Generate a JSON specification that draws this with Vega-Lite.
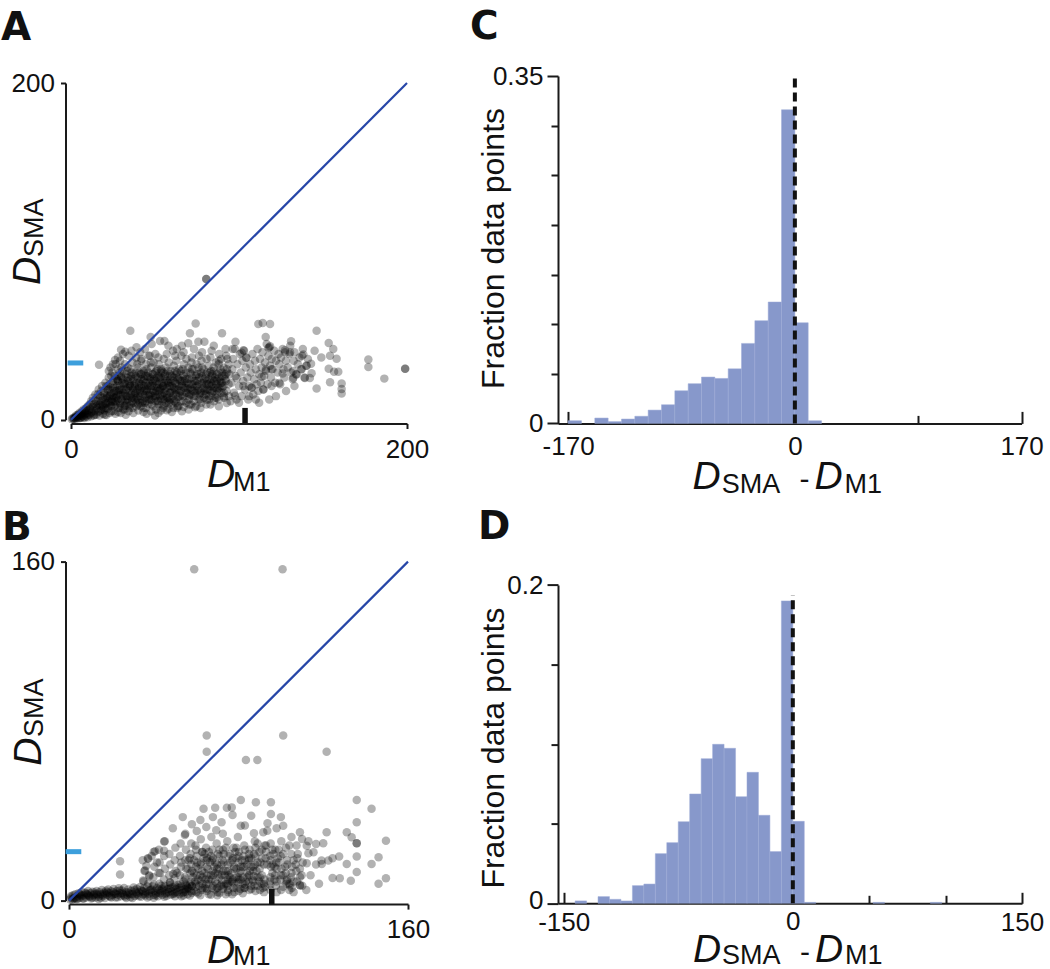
{
"$schema": "https://vega.github.io/schema/vega-lite/v6.json",
"padding": {"left": 1, "top": 7, "right": 0, "bottom": 0},
"config": {
  "view": {"stroke": null},
  "font": "Liberation Sans",
  "axis": {"grid": false, "domainColor": "#1a1a1a", "domainWidth": 2, "tickColor": "#1a1a1a", "tickWidth": 2, "labelColor": "#111111", "labelFontSize": 26, "labelFont": "Liberation Sans", "labelFlush": false, "labelOverlap": false, "titleColor": "#111111", "titleFont": "Liberation Sans", "titleFontWeight": "normal"},
  "title": {"font": "DejaVu Sans", "fontWeight": "bold", "fontSize": 39, "color": "#111111", "anchor": "start", "frame": "group", "baseline": "alphabetic", "offset": 0}
},
"datasets": {
"scatterA": [
{"m1":0.5,"sma":0.3},{"m1":1,"sma":0.8},{"m1":1.5,"sma":0.5},{"m1":2,"sma":1.5},{"m1":2.5,"sma":1},{"m1":3,"sma":0.5},{"m1":3,"sma":2.5},{"m1":3.5,"sma":1.5},{"m1":4,"sma":3},{"m1":4,"sma":1},{"m1":4.5,"sma":2},{"m1":5,"sma":4},{"m1":5,"sma":0.8},{"m1":5.5,"sma":2.5},{"m1":6,"sma":3.5},{"m1":6,"sma":1.2},{"m1":6.5,"sma":5},{"m1":7,"sma":2},{"m1":7,"sma":4},{"m1":7.5,"sma":6},{"m1":8,"sma":1},{"m1":8,"sma":3},{"m1":8.5,"sma":5},{"m1":9,"sma":7},{"m1":9,"sma":2},{"m1":9.5,"sma":4},{"m1":10,"sma":8},{"m1":10,"sma":1.5},{"m1":10.5,"sma":5.5},{"m1":11,"sma":3},{"m1":11,"sma":9},{"m1":11.5,"sma":6.5},{"m1":12,"sma":2},{"m1":12,"sma":11},{"m1":12.5,"sma":4.5},{"m1":13,"sma":7.5},{"m1":13,"sma":13},{"m1":13.5,"sma":2.5},{"m1":14,"sma":9.5},{"m1":14,"sma":5},{"m1":14.5,"sma":15},{"m1":15,"sma":3},{"m1":15,"sma":11},{"m1":15.5,"sma":7},{"m1":16,"sma":13},{"m1":16,"sma":4.5},{"m1":16.5,"sma":18},{"m1":17,"sma":9},{"m1":17,"sma":2.5},{"m1":17.5,"sma":14},{"m1":18,"sma":6},{"m1":18,"sma":11},{"m1":18.5,"sma":20},{"m1":19,"sma":3.5},{"m1":19,"sma":8},{"m1":19.5,"sma":16},{"m1":20,"sma":12},{"m1":20,"sma":5.5},{"m1":20.5,"sma":22},{"m1":21,"sma":9.5},{"m1":21,"sma":2.8},{"m1":21.5,"sma":14},{"m1":22,"sma":18},{"m1":22,"sma":6.5},{"m1":22.5,"sma":11},{"m1":23,"sma":4},{"m1":23,"sma":21},{"m1":23.5,"sma":15},{"m1":24,"sma":8.5},{"m1":24,"sma":26},{"m1":24.5,"sma":12.5},
{"m1":2,"sma":0.5},{"m1":3,"sma":1.8},{"m1":4.5,"sma":3},{"m1":5.5,"sma":1.2},{"m1":6.5,"sma":2.5},{"m1":7.5,"sma":1.5},{"m1":8.5,"sma":3.5},{"m1":9,"sma":5.5},{"m1":10,"sma":3},{"m1":11,"sma":6},{"m1":12,"sma":4},{"m1":13,"sma":9},{"m1":14,"sma":3},{"m1":15,"sma":6},{"m1":16,"sma":9},{"m1":17,"sma":5},{"m1":18,"sma":8.5},{"m1":19,"sma":13},{"m1":20,"sma":3},{"m1":21,"sma":7},{"m1":22,"sma":10},{"m1":23,"sma":14},{"m1":24,"sma":5},{"m1":25,"sma":19},{"m1":26,"sma":8},{"m1":27,"sma":14},{"m1":28,"sma":23},
{"m1":25.2,"sma":5},{"m1":24.8,"sma":10.5},{"m1":25.5,"sma":16},{"m1":25.1,"sma":21},{"m1":24.6,"sma":28},{"m1":26.4,"sma":3.5},{"m1":26.8,"sma":13},{"m1":26.3,"sma":19},{"m1":26.9,"sma":24},{"m1":26.6,"sma":33},{"m1":28.2,"sma":7},{"m1":27.8,"sma":12},{"m1":28.4,"sma":17.5},{"m1":27.9,"sma":23},{"m1":28.1,"sma":30},{"m1":29.6,"sma":4},{"m1":29.3,"sma":9},{"m1":29.8,"sma":15},{"m1":29.4,"sma":20},{"m1":29.7,"sma":26},{"m1":29.2,"sma":35},{"m1":31.1,"sma":6},{"m1":30.8,"sma":11},{"m1":31.4,"sma":18},{"m1":31,"sma":24},{"m1":30.7,"sma":29},{"m1":32.6,"sma":3},{"m1":32.3,"sma":8.5},{"m1":32.8,"sma":14},{"m1":32.4,"sma":21},{"m1":32.9,"sma":27},{"m1":32.2,"sma":33},{"m1":34.2,"sma":5},{"m1":33.8,"sma":12},{"m1":34.4,"sma":17},{"m1":34,"sma":23},{"m1":33.7,"sma":31},{"m1":34.3,"sma":38},{"m1":35.4,"sma":9},{"m1":35.8,"sma":15},{"m1":35.3,"sma":20},{"m1":35.7,"sma":26},{"m1":35.5,"sma":30},{"m1":37.1,"sma":4},{"m1":36.8,"sma":7},{"m1":37.3,"sma":13},{"m1":36.9,"sma":18},{"m1":37.2,"sma":24},{"m1":36.7,"sma":34},{"m1":38.6,"sma":10},{"m1":38.3,"sma":16},{"m1":38.8,"sma":22},{"m1":38.4,"sma":28},{"m1":38.7,"sma":37},{"m1":40.1,"sma":5.5},{"m1":39.8,"sma":12},{"m1":40.3,"sma":19},{"m1":39.9,"sma":25},{"m1":40.2,"sma":31},{"m1":41.6,"sma":8},{"m1":41.3,"sma":14},{"m1":41.8,"sma":21},{"m1":41.4,"sma":27},{"m1":41.7,"sma":35},{"m1":41.2,"sma":40},{"m1":43.1,"sma":4.5},{"m1":42.8,"sma":11},{"m1":43.3,"sma":17},{"m1":42.9,"sma":23},{"m1":43.2,"sma":29},{"m1":44.6,"sma":7},{"m1":44.3,"sma":13},{"m1":44.8,"sma":20},{"m1":44.4,"sma":26},{"m1":44.7,"sma":33},{"m1":46.1,"sma":9.5},{"m1":45.8,"sma":15},{"m1":46.3,"sma":22},{"m1":45.9,"sma":28},{"m1":46.2,"sma":38},{"m1":47.6,"sma":5},{"m1":47.3,"sma":12},{"m1":47.8,"sma":18},{"m1":47.4,"sma":24},{"m1":47.7,"sma":31},{"m1":49.1,"sma":8},{"m1":48.8,"sma":14},{"m1":49.3,"sma":20},{"m1":48.9,"sma":27},{"m1":49.2,"sma":34},{"m1":50.6,"sma":6},{"m1":50.3,"sma":11},{"m1":50.8,"sma":17},{"m1":50.4,"sma":23},{"m1":50.7,"sma":29},{"m1":50.2,"sma":39},{"m1":52.1,"sma":9},{"m1":51.8,"sma":15},{"m1":52.3,"sma":21},{"m1":51.9,"sma":26},{"m1":52.2,"sma":33},{"m1":53.6,"sma":5.5},{"m1":53.3,"sma":12.5},{"m1":53.8,"sma":19},{"m1":53.4,"sma":25},{"m1":53.7,"sma":30},{"m1":55.1,"sma":8},{"m1":54.8,"sma":14},{"m1":55.3,"sma":22},{"m1":54.9,"sma":28},{"m1":55.2,"sma":36},{"m1":56.6,"sma":10},{"m1":56.3,"sma":17},{"m1":56.8,"sma":23},{"m1":56.4,"sma":31},{"m1":58.1,"sma":6.5},{"m1":57.8,"sma":13},{"m1":58.3,"sma":20},{"m1":57.9,"sma":26},{"m1":58.2,"sma":34},{"m1":59.6,"sma":9},{"m1":59.3,"sma":16},{"m1":59.8,"sma":22},{"m1":59.4,"sma":29},{"m1":61.1,"sma":7},{"m1":60.8,"sma":12},{"m1":61.3,"sma":19},{"m1":60.9,"sma":25},{"m1":61.2,"sma":32},{"m1":60.7,"sma":41},{"m1":62.6,"sma":10},{"m1":62.3,"sma":15},{"m1":62.8,"sma":21},{"m1":62.4,"sma":27},{"m1":62.7,"sma":35},{"m1":64.1,"sma":8},{"m1":63.8,"sma":13.5},{"m1":64.3,"sma":20},{"m1":63.9,"sma":24},{"m1":64.2,"sma":30},{"m1":65.6,"sma":11},{"m1":65.3,"sma":17},{"m1":65.8,"sma":23},{"m1":65.4,"sma":29},{"m1":65.7,"sma":38},{"m1":67.1,"sma":7.5},{"m1":66.8,"sma":14},{"m1":67.3,"sma":19},{"m1":66.9,"sma":26},{"m1":67.2,"sma":33},{"m1":68.6,"sma":10},{"m1":68.3,"sma":16},{"m1":68.8,"sma":22},{"m1":68.4,"sma":28},{"m1":68.7,"sma":36},{"m1":70.1,"sma":12},{"m1":69.8,"sma":18},{"m1":70.3,"sma":24},{"m1":69.9,"sma":31},{"m1":71.6,"sma":9},{"m1":71.3,"sma":15},{"m1":71.8,"sma":21},{"m1":71.4,"sma":27},{"m1":71.7,"sma":34},{"m1":73.1,"sma":11},{"m1":72.8,"sma":17},{"m1":73.3,"sma":23},{"m1":72.9,"sma":30},{"m1":73.2,"sma":42},{"m1":74.6,"sma":8},{"m1":74.3,"sma":14},{"m1":74.8,"sma":20},{"m1":74.4,"sma":26},{"m1":74.7,"sma":33},{"m1":76.1,"sma":12},{"m1":75.8,"sma":18},{"m1":76.3,"sma":25},{"m1":75.9,"sma":31},{"m1":76.2,"sma":38},{"m1":77.6,"sma":10},{"m1":77.3,"sma":16},{"m1":77.8,"sma":22},{"m1":77.4,"sma":28},{"m1":77.7,"sma":35},{"m1":79.1,"sma":13},{"m1":78.8,"sma":19},{"m1":79.3,"sma":24},{"m1":78.9,"sma":30},{"m1":80.6,"sma":9},{"m1":80.3,"sma":15},{"m1":80.8,"sma":21},{"m1":80.4,"sma":27},{"m1":80.7,"sma":36},{"m1":82.1,"sma":12},{"m1":81.8,"sma":18},{"m1":82.3,"sma":24},{"m1":81.9,"sma":32},{"m1":83.6,"sma":14},{"m1":83.3,"sma":20},{"m1":83.8,"sma":26},{"m1":83.4,"sma":29},{"m1":83.7,"sma":41},{"m1":85.1,"sma":11},{"m1":84.8,"sma":17},{"m1":85.3,"sma":23},{"m1":84.9,"sma":31},{"m1":86.6,"sma":15},{"m1":86.3,"sma":21},{"m1":86.8,"sma":27},{"m1":86.4,"sma":34},{"m1":88.1,"sma":12},{"m1":87.8,"sma":19},{"m1":88.3,"sma":25},{"m1":87.9,"sma":33},{"m1":88.2,"sma":39},{"m1":89.6,"sma":16},{"m1":89.3,"sma":22},{"m1":89.8,"sma":28},{"m1":89.4,"sma":36},{"m1":91.1,"sma":13},{"m1":90.8,"sma":20},{"m1":91.3,"sma":26},{"m1":90.9,"sma":31},{"m1":92.6,"sma":17},{"m1":92.3,"sma":23},{"m1":92.8,"sma":30},{"m1":92.4,"sma":38},{"m1":94.1,"sma":14},{"m1":93.8,"sma":21},{"m1":94.3,"sma":27},{"m1":93.9,"sma":33},
{"m1":19,"sma":6},{"m1":20.5,"sma":10},{"m1":21.5,"sma":18},{"m1":22.5,"sma":25},{"m1":23.5,"sma":31},{"m1":24,"sma":8},{"m1":25.8,"sma":13},{"m1":26,"sma":26},{"m1":27,"sma":9},{"m1":27.5,"sma":20},{"m1":28.8,"sma":15},{"m1":29,"sma":28},{"m1":30,"sma":12},{"m1":30.5,"sma":22},{"m1":31.8,"sma":8},{"m1":32,"sma":16},{"m1":33,"sma":25},{"m1":33.5,"sma":10},{"m1":34.8,"sma":20},{"m1":35,"sma":14},{"m1":36,"sma":28},{"m1":36.2,"sma":11},{"m1":37.8,"sma":21},{"m1":38,"sma":15},{"m1":39,"sma":8},{"m1":39.5,"sma":18},{"m1":40.5,"sma":28},{"m1":41,"sma":16},{"m1":42,"sma":24},{"m1":42.5,"sma":10},{"m1":43.5,"sma":20},{"m1":44,"sma":15},{"m1":45,"sma":30},{"m1":45.2,"sma":18},{"m1":46.5,"sma":12},{"m1":47,"sma":25},{"m1":48,"sma":20},{"m1":48.5,"sma":16},{"m1":49.5,"sma":24},{"m1":50,"sma":13},{"m1":51,"sma":19},{"m1":51.5,"sma":30},{"m1":52.5,"sma":17},{"m1":53,"sma":24},{"m1":54,"sma":15},{"m1":54.5,"sma":20},{"m1":55.8,"sma":26},{"m1":56,"sma":12},{"m1":57,"sma":19},{"m1":57.5,"sma":29},{"m1":58.8,"sma":16},{"m1":59,"sma":24},{"m1":60,"sma":20},{"m1":60.5,"sma":14},{"m1":62,"sma":18},{"m1":63,"sma":25},{"m1":64.5,"sma":16},{"m1":66,"sma":21},{"m1":67.5,"sma":23},{"m1":69,"sma":19},{"m1":70.5,"sma":15},{"m1":72,"sma":25},{"m1":73.8,"sma":19},{"m1":75,"sma":23},{"m1":76.5,"sma":15},{"m1":78,"sma":26},{"m1":79.5,"sma":17},{"m1":81,"sma":23},{"m1":82.8,"sma":28},{"m1":84,"sma":21},{"m1":85.8,"sma":25},{"m1":87,"sma":18},{"m1":88.8,"sma":23},{"m1":90,"sma":19},{"m1":91.8,"sma":24},{"m1":93,"sma":28},
{"m1":20,"sma":7},{"m1":21,"sma":13},{"m1":22,"sma":20},{"m1":23,"sma":9},{"m1":24,"sma":16},{"m1":25,"sma":23},{"m1":26,"sma":11},{"m1":27,"sma":17},{"m1":28,"sma":4.5},{"m1":28.5,"sma":26},{"m1":29,"sma":10},{"m1":30,"sma":18},{"m1":30,"sma":31},{"m1":31,"sma":14},{"m1":32,"sma":6},{"m1":32,"sma":22},{"m1":33,"sma":12},{"m1":33.5,"sma":29},{"m1":34,"sma":19},{"m1":35,"sma":7},{"m1":35.5,"sma":24},{"m1":36,"sma":16},{"m1":37,"sma":10},{"m1":37.5,"sma":27},{"m1":38,"sma":20},{"m1":39,"sma":13},{"m1":39.5,"sma":33},{"m1":40,"sma":9},{"m1":40.5,"sma":22},{"m1":41,"sma":17},{"m1":42,"sma":27},{"m1":42,"sma":12},{"m1":43,"sma":7},{"m1":43.5,"sma":24},{"m1":44,"sma":18},{"m1":45,"sma":11},{"m1":45.5,"sma":26},{"m1":46,"sma":20},{"m1":47,"sma":15},{"m1":47.5,"sma":34},{"m1":48,"sma":9},{"m1":48.5,"sma":23},{"m1":49,"sma":17},{"m1":50,"sma":28},{"m1":50.5,"sma":14},{"m1":51,"sma":21},{"m1":52,"sma":11},{"m1":52.5,"sma":25},{"m1":53,"sma":18},{"m1":54,"sma":29},{"m1":54,"sma":9},{"m1":55,"sma":20},{"m1":55.5,"sma":16},{"m1":56,"sma":24},{"m1":57,"sma":13},{"m1":58,"sma":22},{"m1":58.5,"sma":10},{"m1":59,"sma":27},{"m1":60,"sma":17},{"m1":61,"sma":23},{"m1":61.5,"sma":11},{"m1":62,"sma":29},{"m1":63,"sma":18},{"m1":63.5,"sma":8},{"m1":64,"sma":25},{"m1":65,"sma":14},{"m1":66,"sma":20},{"m1":66.5,"sma":30},{"m1":67,"sma":11},{"m1":68,"sma":24},{"m1":69,"sma":16},{"m1":70,"sma":21},{"m1":70.5,"sma":9},{"m1":71,"sma":28},{"m1":72,"sma":18},{"m1":73,"sma":14},{"m1":74,"sma":23},{"m1":75,"sma":17},{"m1":76,"sma":27},{"m1":77,"sma":12},{"m1":78,"sma":21},{"m1":79,"sma":15},{"m1":80,"sma":25},{"m1":81,"sma":18},{"m1":82,"sma":14},{"m1":83,"sma":22},{"m1":84,"sma":27},{"m1":85,"sma":19},{"m1":86,"sma":13},{"m1":87,"sma":24},{"m1":88,"sma":17},{"m1":89,"sma":30},{"m1":90,"sma":22},{"m1":91,"sma":16},{"m1":92,"sma":27},
{"m1":15,"sma":8},{"m1":16,"sma":15},{"m1":17,"sma":11},{"m1":18,"sma":17},{"m1":19,"sma":9},{"m1":20,"sma":15},{"m1":21,"sma":20},{"m1":22,"sma":13},{"m1":23,"sma":18},{"m1":24,"sma":11},{"m1":25,"sma":14},{"m1":26,"sma":17},{"m1":27,"sma":11},{"m1":27.5,"sma":24},{"m1":28,"sma":15},{"m1":29,"sma":18},{"m1":29.5,"sma":7},{"m1":30,"sma":25},{"m1":31,"sma":16},{"m1":31.5,"sma":21},{"m1":32,"sma":11},{"m1":33,"sma":18},{"m1":33.5,"sma":14},{"m1":34,"sma":25},{"m1":34.5,"sma":8},{"m1":35,"sma":21},{"m1":36,"sma":13},{"m1":36.5,"sma":19},{"m1":37,"sma":23},{"m1":38,"sma":12},{"m1":38.5,"sma":26},{"m1":39,"sma":17},{"m1":40,"sma":14},{"m1":40.5,"sma":20},{"m1":41,"sma":10},{"m1":41.5,"sma":24},{"m1":42,"sma":19},{"m1":43,"sma":15},{"m1":43.5,"sma":28},{"m1":44,"sma":10},{"m1":44.5,"sma":22},{"m1":45,"sma":17},{"m1":46,"sma":25},{"m1":46.5,"sma":14},{"m1":47,"sma":20},{"m1":48,"sma":12},{"m1":48.5,"sma":27},{"m1":49,"sma":22},{"m1":50,"sma":16},{"m1":51,"sma":25},{"m1":51.5,"sma":11},{"m1":52,"sma":19},{"m1":53,"sma":14},{"m1":53.5,"sma":28},{"m1":54,"sma":22},{"m1":55,"sma":12},{"m1":55.5,"sma":18},{"m1":56,"sma":27},{"m1":57,"sma":15},{"m1":57.5,"sma":22},{"m1":58,"sma":11},{"m1":59,"sma":20},{"m1":60,"sma":26},{"m1":61,"sma":16},{"m1":62,"sma":22},{"m1":62.5,"sma":12},{"m1":63,"sma":28},{"m1":64,"sma":18},{"m1":65,"sma":23},{"m1":66,"sma":15},{"m1":67,"sma":27},{"m1":68,"sma":19},{"m1":69,"sma":24},{"m1":70,"sma":14},{"m1":71,"sma":19},{"m1":72,"sma":30},{"m1":73,"sma":21},{"m1":74,"sma":16},{"m1":75,"sma":27},{"m1":76,"sma":21},{"m1":77,"sma":17},{"m1":78,"sma":31},{"m1":79,"sma":22},{"m1":80,"sma":18},{"m1":81,"sma":28},{"m1":82,"sma":21},{"m1":83,"sma":17},{"m1":84,"sma":24},{"m1":85,"sma":29},{"m1":86,"sma":19},{"m1":87,"sma":23},{"m1":88,"sma":28},{"m1":89,"sma":20},{"m1":90,"sma":26},{"m1":42,"sma":36},{"m1":47,"sma":38},{"m1":52,"sma":37},{"m1":57,"sma":39},{"m1":62,"sma":38},{"m1":67,"sma":40},{"m1":72,"sma":37},{"m1":78,"sma":40},{"m1":83,"sma":37},{"m1":88,"sma":35},{"m1":93,"sma":36},
{"m1":22.5,"sma":29},{"m1":25,"sma":33},{"m1":28,"sma":37},{"m1":31,"sma":39},{"m1":36,"sma":41},{"m1":39,"sma":43},{"m1":44,"sma":42},{"m1":48,"sma":45},{"m1":58,"sma":44},{"m1":63,"sma":42},{"m1":66,"sma":44},{"m1":85,"sma":44},{"m1":92,"sma":42},{"m1":45,"sma":3.5},{"m1":52,"sma":4},{"m1":60,"sma":4.5},{"m1":66,"sma":5},{"m1":70,"sma":6},{"m1":77,"sma":7},{"m1":83,"sma":9},{"m1":95,"sma":11},{"m1":50,"sma":2.5},
{"m1":95.5,"sma":22},{"m1":96,"sma":30},{"m1":96.5,"sma":36},{"m1":97,"sma":16},{"m1":97.5,"sma":42},{"m1":98,"sma":26},{"m1":98.5,"sma":12},{"m1":99,"sma":33},{"m1":100,"sma":20},{"m1":100.5,"sma":39},{"m1":101,"sma":28},{"m1":101.5,"sma":14},{"m1":102,"sma":35},{"m1":102.5,"sma":23},{"m1":103,"sma":41},{"m1":103.5,"sma":18},{"m1":104,"sma":31},{"m1":104.5,"sma":37},{"m1":105,"sma":25},{"m1":105.5,"sma":12},{"m1":106,"sma":20},{"m1":106.5,"sma":33},{"m1":107,"sma":28},{"m1":107.5,"sma":19},{"m1":108,"sma":39},{"m1":108.5,"sma":15},{"m1":109,"sma":24},{"m1":109.5,"sma":35},{"m1":110,"sma":30},{"m1":110.5,"sma":21},{"m1":111,"sma":42},{"m1":111.5,"sma":17},{"m1":112,"sma":27},{"m1":112.5,"sma":36},{"m1":113,"sma":22},{"m1":113.5,"sma":31},{"m1":114,"sma":40},{"m1":114.5,"sma":18},{"m1":115,"sma":26},{"m1":115.5,"sma":34},{"m1":116,"sma":29},{"m1":116.5,"sma":45},{"m1":117,"sma":21},{"m1":117.5,"sma":38},{"m1":118,"sma":43},{"m1":118.5,"sma":32},{"m1":119,"sma":25},{"m1":119.5,"sma":36},{"m1":120,"sma":30},{"m1":121,"sma":41},{"m1":121.5,"sma":22},{"m1":122,"sma":35},{"m1":123,"sma":28},{"m1":123.5,"sma":39},{"m1":124,"sma":33},{"m1":124.5,"sma":21},{"m1":125,"sma":37},{"m1":126,"sma":42},{"m1":126.5,"sma":30},{"m1":127,"sma":25},{"m1":127.5,"sma":40},{"m1":128,"sma":35},{"m1":129,"sma":31},{"m1":130,"sma":39},{"m1":130.5,"sma":44},{"m1":131,"sma":28},{"m1":132,"sma":24},{"m1":132.5,"sma":35},{"m1":133,"sma":40},{"m1":134,"sma":27},{"m1":135,"sma":33},{"m1":136,"sma":37},{"m1":137,"sma":30},{"m1":137.5,"sma":38},{"m1":138,"sma":42},{"m1":139,"sma":25},{"m1":140,"sma":32},{"m1":141,"sma":36},
{"m1":80.5,"sma":83.6},{"m1":80.5,"sma":83.6},{"m1":35.3,"sma":52.9},{"m1":74.2,"sma":57.2},{"m1":89.9,"sma":51.3},{"m1":70.8,"sma":51.3},{"m1":47.4,"sma":49.1},{"m1":53,"sma":46.7},{"m1":55.6,"sma":46.7},{"m1":69.8,"sma":45.4},{"m1":75.8,"sma":46.3},{"m1":79.4,"sma":46.3},{"m1":97.9,"sma":46.3},{"m1":29.8,"sma":41.6},{"m1":32.3,"sma":40.4},{"m1":16.7,"sma":32.7},{"m1":26.2,"sma":35.5},{"m1":111.5,"sma":56.8},{"m1":114.1,"sma":57.4},{"m1":118.5,"sma":56.8},{"m1":146.2,"sma":52.9},{"m1":115.9,"sma":49.1},{"m1":131,"sma":46.6},{"m1":153.4,"sma":45.6},{"m1":156.1,"sma":42},{"m1":154.2,"sma":38},{"m1":158.1,"sma":36.2},{"m1":177,"sma":35.8},{"m1":177,"sma":31.3},{"m1":198.9,"sma":30.3},{"m1":198.9,"sma":30.3},{"m1":186.5,"sma":24.4},{"m1":153.4,"sma":30.3},{"m1":156.6,"sma":28.5},{"m1":159.1,"sma":28.5},{"m1":146.2,"sma":18.6},{"m1":154.2,"sma":22.3},{"m1":161.1,"sma":21.5},{"m1":161.1,"sma":18.3},{"m1":161.1,"sma":15.6},{"m1":142.9,"sma":33.3},{"m1":142.2,"sma":24.8},{"m1":139.2,"sma":24.8},{"m1":132.3,"sma":28.9},{"m1":132.3,"sma":24.8},{"m1":134.3,"sma":26.9},{"m1":124,"sma":21.8},{"m1":137.3,"sma":30},{"m1":140.3,"sma":32},{"m1":143.2,"sma":27.6},{"m1":119.4,"sma":20},{"m1":114.5,"sma":18},{"m1":107.5,"sma":19.2},{"m1":102.6,"sma":20},{"m1":98.6,"sma":24.6},{"m1":97.6,"sma":14.3},{"m1":58.9,"sma":11.9},{"m1":63.3,"sma":7},{"m1":73.8,"sma":7.4},{"m1":80.8,"sma":11.9},{"m1":86.7,"sma":12.9},{"m1":92.7,"sma":9.9},{"m1":55,"sma":7},{"m1":57,"sma":5.6},{"m1":130.4,"sma":40.1},{"m1":127.4,"sma":41.3},{"m1":118.5,"sma":43.6},{"m1":117.5,"sma":42.6},{"m1":102.6,"sma":41.2},{"m1":101.6,"sma":39.7},{"m1":104.2,"sma":36.8},{"m1":96.2,"sma":42},{"m1":138.3,"sma":38.8},{"m1":126,"sma":27.5},{"m1":119.4,"sma":30},{"m1":116,"sma":29.8},{"m1":113.5,"sma":25.5},{"m1":106,"sma":14},{"m1":110,"sma":12},{"m1":100,"sma":10},{"m1":88,"sma":8},{"m1":84,"sma":16},{"m1":91,"sma":14},{"m1":145,"sma":41},{"m1":149,"sma":37},{"m1":133,"sma":20},{"m1":128,"sma":17},{"m1":122,"sma":14},{"m1":112,"sma":10},{"m1":118,"sma":12}
],
"scatterB": [
{"m1":0.5,"sma":0.5},{"m1":1,"sma":1.5},{"m1":1.5,"sma":0.5},{"m1":2,"sma":2.5},{"m1":2.5,"sma":1},{"m1":3,"sma":3},{"m1":3.5,"sma":0.8},{"m1":4,"sma":2},{"m1":4.5,"sma":3.5},{"m1":5,"sma":1.2},{"m1":5.5,"sma":2.8},{"m1":6,"sma":4},{"m1":6.5,"sma":1},{"m1":7,"sma":2.5},{"m1":7.5,"sma":3.8},{"m1":8,"sma":1.5},{"m1":8.5,"sma":3},{"m1":9,"sma":4.5},{"m1":9.5,"sma":2},{"m1":10,"sma":3.5},{"m1":10.5,"sma":1},{"m1":11,"sma":4.2},{"m1":11.5,"sma":2.5},{"m1":12,"sma":3.8},{"m1":12.5,"sma":1.5},{"m1":13,"sma":4.5},{"m1":13.5,"sma":2.8},{"m1":14,"sma":1.8},{"m1":14.5,"sma":4},{"m1":15,"sma":3},{"m1":15.5,"sma":5},{"m1":16,"sma":2},{"m1":16.5,"sma":3.8},{"m1":17,"sma":1.2},{"m1":17.5,"sma":4.6},{"m1":18,"sma":2.8},{"m1":18.5,"sma":5.2},{"m1":19,"sma":3.6},{"m1":19.5,"sma":1.8},{"m1":20,"sma":4.4},{"m1":20.5,"sma":2.6},{"m1":21,"sma":5.5},{"m1":21.5,"sma":3.2},{"m1":22,"sma":1.5},{"m1":22.5,"sma":4.5},{"m1":23,"sma":2.8},{"m1":23.5,"sma":5.8},{"m1":24,"sma":3.5},{"m1":24.5,"sma":2},{"m1":25,"sma":4.8},{"m1":25.5,"sma":3},{"m1":26,"sma":6},{"m1":26.5,"sma":1.8},{"m1":27,"sma":4},{"m1":27.5,"sma":2.6},{"m1":28,"sma":5.2},{"m1":28.5,"sma":3.4},{"m1":29,"sma":1.6},{"m1":29.5,"sma":4.6},{"m1":30,"sma":3},{"m1":30.5,"sma":6.2},{"m1":31,"sma":2.2},{"m1":31.5,"sma":4.2},{"m1":32,"sma":5.6},{"m1":32.5,"sma":2.8},{"m1":33,"sma":3.8},{"m1":33.5,"sma":6.4},{"m1":34,"sma":1.8},{"m1":34.5,"sma":4.4},{"m1":35,"sma":3},{"m1":35.5,"sma":5.8},{"m1":36,"sma":2.4},{"m1":36.5,"sma":4.2},{"m1":37,"sma":6.6},{"m1":37.5,"sma":3.2},{"m1":38,"sma":2},{"m1":38.5,"sma":5},{"m1":39,"sma":3.8},{"m1":39.5,"sma":6.8},{"m1":40,"sma":2.6},{"m1":40.5,"sma":4.6},{"m1":41,"sma":3.4},{"m1":41.5,"sma":6},{"m1":42,"sma":2},{"m1":42.5,"sma":5.2},{"m1":43,"sma":3.6},{"m1":43.5,"sma":7},{"m1":44,"sma":2.8},{"m1":44.5,"sma":4.8},{"m1":45,"sma":6.2},{"m1":45.5,"sma":3.2},{"m1":46,"sma":2.2},{"m1":46.5,"sma":5.4},{"m1":47,"sma":4},{"m1":47.5,"sma":7.2},{"m1":48,"sma":2.8},{"m1":48.5,"sma":4.4},{"m1":49,"sma":6.4},{"m1":49.5,"sma":3.4},{"m1":50,"sma":2},{"m1":50.5,"sma":5.4},{"m1":51,"sma":4},{"m1":51.5,"sma":7.4},{"m1":52,"sma":3},{"m1":52.5,"sma":5},{"m1":53,"sma":6.6},{"m1":53.5,"sma":3.6},{"m1":54,"sma":2.4},{"m1":54.5,"sma":5.2},{"m1":55,"sma":4.2},{"m1":55.5,"sma":7},{"m1":56,"sma":3},{"m1":56.5,"sma":5.6},{"m1":57,"sma":2.4},{"m1":57.5,"sma":4.4},{"m1":58,"sma":6.8},
{"m1":2,"sma":1},{"m1":4,"sma":0.8},{"m1":6,"sma":2.2},{"m1":8,"sma":3.5},{"m1":10,"sma":1.8},{"m1":12,"sma":3},{"m1":14,"sma":0.8},{"m1":16,"sma":2.8},{"m1":18,"sma":4},{"m1":20,"sma":1.5},{"m1":22,"sma":3.2},{"m1":24,"sma":4.8},{"m1":26,"sma":2.4},{"m1":28,"sma":3.8},{"m1":30,"sma":1.2},{"m1":32,"sma":3.4},{"m1":34,"sma":5},{"m1":36,"sma":3.4},{"m1":38,"sma":4.6},{"m1":40,"sma":1.4},{"m1":42,"sma":3.8},{"m1":44,"sma":5.6},{"m1":46,"sma":3.6},{"m1":48,"sma":5.8},{"m1":50,"sma":3.8},{"m1":52,"sma":6},{"m1":54,"sma":4},{"m1":56,"sma":6.2},{"m1":58,"sma":3.6},{"m1":60,"sma":6.5},{"m1":62,"sma":2.5},{"m1":64,"sma":6},{"m1":66,"sma":3},{"m1":68,"sma":7},{"m1":70,"sma":2.5},{"m1":72,"sma":7.5},{"m1":74,"sma":3},{"m1":76,"sma":9},{"m1":78,"sma":4},{"m1":80,"sma":10},{"m1":82,"sma":3.5},{"m1":85,"sma":12},{"m1":88,"sma":4.5},
{"m1":1,"sma":2.2},{"m1":3,"sma":1.2},{"m1":5,"sma":3},{"m1":7,"sma":1},{"m1":9,"sma":2.6},{"m1":11,"sma":1.4},{"m1":13,"sma":3.2},{"m1":15,"sma":1.2},{"m1":17,"sma":3.4},{"m1":19,"sma":2.2},{"m1":21,"sma":4},{"m1":23,"sma":1.6},{"m1":25,"sma":3.6},{"m1":27,"sma":1.2},{"m1":29,"sma":3},{"m1":31,"sma":5},{"m1":33,"sma":2},{"m1":35,"sma":4.4},{"m1":37,"sma":1.5},{"m1":39,"sma":5.2},{"m1":41,"sma":2.4},{"m1":43,"sma":4.6},{"m1":45,"sma":1.8},{"m1":47,"sma":5.6},{"m1":49,"sma":3},{"m1":51,"sma":6.2},{"m1":53,"sma":2},{"m1":55,"sma":5.4},{"m1":57,"sma":7.6},{"m1":59,"sma":4.6},{"m1":61,"sma":3.4},{"m1":63,"sma":8},{"m1":65,"sma":5.6},{"m1":67,"sma":2.8},{"m1":69,"sma":5.2},{"m1":71,"sma":3.6},{"m1":73,"sma":6.8},{"m1":75,"sma":5},{"m1":77,"sma":3},{"m1":79,"sma":6},{"m1":81,"sma":5.5},{"m1":83,"sma":7.5},{"m1":86,"sma":5.5},{"m1":89,"sma":7},{"m1":92,"sma":4},{"m1":95,"sma":7.5},{"m1":98,"sma":4},{"m1":101,"sma":6.5},{"m1":104,"sma":5},
{"m1":35.2,"sma":9},{"m1":35.6,"sma":14},{"m1":34.8,"sma":19},{"m1":37.4,"sma":8},{"m1":37.8,"sma":12},{"m1":37.2,"sma":20},{"m1":40.1,"sma":7.5},{"m1":39.8,"sma":11},{"m1":40.3,"sma":16},{"m1":40,"sma":23},{"m1":42.6,"sma":8},{"m1":42.3,"sma":13},{"m1":42.8,"sma":18},{"m1":42.4,"sma":24},{"m1":45.1,"sma":7},{"m1":44.8,"sma":10},{"m1":45.3,"sma":15},{"m1":44.9,"sma":21},{"m1":45.2,"sma":28},{"m1":47.6,"sma":8.5},{"m1":47.3,"sma":12},{"m1":47.8,"sma":17},{"m1":47.4,"sma":22},{"m1":50.1,"sma":7},{"m1":49.8,"sma":10.5},{"m1":50.3,"sma":14},{"m1":49.9,"sma":19},{"m1":50.2,"sma":25},{"m1":52.6,"sma":8},{"m1":52.3,"sma":12},{"m1":52.8,"sma":16},{"m1":52.4,"sma":21},{"m1":52.7,"sma":27},{"m1":55.1,"sma":7.5},{"m1":54.8,"sma":11},{"m1":55.3,"sma":15},{"m1":54.9,"sma":19},{"m1":55.2,"sma":24},{"m1":54.7,"sma":31},{"m1":57.6,"sma":9},{"m1":57.3,"sma":13},{"m1":57.8,"sma":17},{"m1":57.4,"sma":22},{"m1":57.7,"sma":27},{"m1":60.1,"sma":4},{"m1":59.8,"sma":8},{"m1":60.3,"sma":12},{"m1":59.9,"sma":16},{"m1":60.2,"sma":21},{"m1":59.7,"sma":26},{"m1":62.6,"sma":5},{"m1":62.3,"sma":9.5},{"m1":62.8,"sma":14},{"m1":62.4,"sma":18},{"m1":62.7,"sma":23},{"m1":62.2,"sma":29},{"m1":65.1,"sma":4.5},{"m1":64.8,"sma":8},{"m1":65.3,"sma":12},{"m1":64.9,"sma":16},{"m1":65.2,"sma":20},{"m1":64.7,"sma":25},{"m1":67.6,"sma":6},{"m1":67.3,"sma":10},{"m1":67.8,"sma":14},{"m1":67.4,"sma":19},{"m1":67.7,"sma":24},{"m1":67.2,"sma":30},{"m1":70.1,"sma":4},{"m1":69.8,"sma":8},{"m1":70.3,"sma":12.5},{"m1":69.9,"sma":17},{"m1":70.2,"sma":22},{"m1":69.7,"sma":27},{"m1":72.6,"sma":5.5},{"m1":72.3,"sma":9.5},{"m1":72.8,"sma":14},{"m1":72.4,"sma":19},{"m1":72.7,"sma":24},{"m1":75.1,"sma":4},{"m1":74.8,"sma":8},{"m1":75.3,"sma":12},{"m1":74.9,"sma":17},{"m1":75.2,"sma":21},{"m1":74.7,"sma":28},{"m1":77.6,"sma":6},{"m1":77.3,"sma":10},{"m1":77.8,"sma":15},{"m1":77.4,"sma":20},{"m1":77.7,"sma":25},{"m1":80.1,"sma":4.5},{"m1":79.8,"sma":8.5},{"m1":80.3,"sma":13},{"m1":79.9,"sma":18},{"m1":80.2,"sma":23},{"m1":79.7,"sma":30},{"m1":82.6,"sma":6},{"m1":82.3,"sma":11},{"m1":82.8,"sma":16},{"m1":82.4,"sma":21},{"m1":82.7,"sma":26},{"m1":85.1,"sma":5},{"m1":84.8,"sma":9},{"m1":85.3,"sma":14},{"m1":84.9,"sma":19},{"m1":85.2,"sma":24},{"m1":87.6,"sma":7},{"m1":87.3,"sma":11.5},{"m1":87.8,"sma":17},{"m1":87.4,"sma":22},{"m1":87.7,"sma":28},{"m1":90.1,"sma":5},{"m1":89.8,"sma":9},{"m1":90.3,"sma":18},{"m1":89.9,"sma":23},{"m1":92.6,"sma":6.5},{"m1":92.3,"sma":10},{"m1":92.8,"sma":20},{"m1":92.4,"sma":26},{"m1":95.1,"sma":5},{"m1":94.8,"sma":9},{"m1":95.3,"sma":16},{"m1":94.9,"sma":21},{"m1":95.2,"sma":27},{"m1":97.6,"sma":7},{"m1":97.3,"sma":12},{"m1":97.8,"sma":18},{"m1":97.4,"sma":24},{"m1":100.1,"sma":5},{"m1":99.8,"sma":10},{"m1":100.3,"sma":15},{"m1":99.9,"sma":21},{"m1":100.2,"sma":28},{"m1":102.6,"sma":8},{"m1":102.3,"sma":13},{"m1":102.8,"sma":19},{"m1":102.4,"sma":25},{"m1":105.1,"sma":6},{"m1":104.8,"sma":11},{"m1":105.3,"sma":16},{"m1":104.9,"sma":22},{"m1":107.6,"sma":9},{"m1":107.3,"sma":14},{"m1":107.8,"sma":20},{"m1":107.4,"sma":26},{"m1":110.1,"sma":7},{"m1":109.8,"sma":12},{"m1":110.3,"sma":18},
{"m1":56,"sma":6},{"m1":58.5,"sma":11},{"m1":61,"sma":15},{"m1":63.5,"sma":20},{"m1":66,"sma":10},{"m1":68.5,"sma":16},{"m1":71,"sma":21},{"m1":73.5,"sma":12},{"m1":76,"sma":18},{"m1":78.5,"sma":23},{"m1":81,"sma":14},{"m1":83.5,"sma":9},{"m1":86,"sma":20},{"m1":88.5,"sma":14},{"m1":91,"sma":24},{"m1":93.5,"sma":17},{"m1":96,"sma":13},{"m1":98.5,"sma":20},{"m1":64,"sma":22},{"m1":69,"sma":13},{"m1":74,"sma":25},{"m1":79,"sma":11},{"m1":84,"sma":17},{"m1":89,"sma":27},{"m1":61.5,"sma":7},{"m1":66.5,"sma":18},{"m1":71.5,"sma":7},{"m1":76.5,"sma":13},{"m1":81.5,"sma":19},{"m1":86.5,"sma":10},{"m1":91.5,"sma":6},{"m1":96.5,"sma":22},{"m1":59,"sma":19},{"m1":63,"sma":11},{"m1":67,"sma":21},{"m1":71,"sma":15},{"m1":75,"sma":10},{"m1":79,"sma":20},{"m1":83,"sma":24},{"m1":87,"sma":16},{"m1":91,"sma":12},{"m1":95,"sma":19},
{"m1":51,"sma":13},{"m1":53,"sma":18},{"m1":54,"sma":9},{"m1":56,"sma":15},{"m1":57,"sma":20},{"m1":58,"sma":7},{"m1":59,"sma":13},{"m1":60,"sma":24},{"m1":61,"sma":10},{"m1":62,"sma":17},{"m1":63,"sma":6},{"m1":64,"sma":13},{"m1":65,"sma":19},{"m1":66,"sma":8},{"m1":66,"sma":23},{"m1":68,"sma":12},{"m1":69,"sma":18},{"m1":70,"sma":6},{"m1":71,"sma":11},{"m1":72,"sma":17},{"m1":73,"sma":22},{"m1":74,"sma":14},{"m1":75,"sma":7},{"m1":76,"sma":11},{"m1":77,"sma":19},{"m1":78,"sma":8},{"m1":79,"sma":15},{"m1":80,"sma":21},{"m1":81,"sma":10},{"m1":82,"sma":16},{"m1":83,"sma":6},{"m1":84,"sma":13},{"m1":85,"sma":20},{"m1":86,"sma":7},{"m1":87,"sma":14},{"m1":88,"sma":21},{"m1":89,"sma":11},{"m1":90,"sma":15},{"m1":91,"sma":8},{"m1":92,"sma":17},{"m1":93,"sma":23},{"m1":96,"sma":17},{"m1":97,"sma":10},{"m1":98,"sma":15},{"m1":99,"sma":24},{"m1":101,"sma":12},{"m1":103,"sma":17},{"m1":104,"sma":8},{"m1":106,"sma":19},
{"m1":55,"sma":10},{"m1":56.5,"sma":19},{"m1":58,"sma":14},{"m1":59.5,"sma":9},{"m1":60.5,"sma":18},{"m1":62,"sma":12},{"m1":63,"sma":23},{"m1":64.5,"sma":10},{"m1":65.5,"sma":15},{"m1":67,"sma":12},{"m1":68,"sma":20},{"m1":69,"sma":9},{"m1":70,"sma":15},{"m1":71,"sma":24},{"m1":72,"sma":12},{"m1":73,"sma":18},{"m1":74,"sma":8},{"m1":75,"sma":14},{"m1":76,"sma":22},{"m1":77,"sma":9},{"m1":78,"sma":16},{"m1":79,"sma":25},{"m1":80,"sma":11},{"m1":81,"sma":16},{"m1":82,"sma":8},{"m1":83,"sma":19},{"m1":84,"sma":11},{"m1":85,"sma":22},{"m1":86,"sma":16},{"m1":87,"sma":9},{"m1":88,"sma":25},{"m1":89,"sma":18},{"m1":90,"sma":11},{"m1":91,"sma":20},{"m1":92,"sma":8},{"m1":93,"sma":26},{"m1":95,"sma":11},{"m1":96,"sma":24},{"m1":97,"sma":16},{"m1":98,"sma":9},{"m1":99,"sma":18},{"m1":100,"sma":12},{"m1":101,"sma":22},{"m1":102,"sma":16},{"m1":103,"sma":10},{"m1":104,"sma":26},{"m1":105,"sma":13},{"m1":106,"sma":9},{"m1":107,"sma":17},{"m1":108,"sma":22},{"m1":109,"sma":15},
{"m1":59.1,"sma":156.4},{"m1":100.8,"sma":156.4},{"m1":65,"sma":77.9},{"m1":65,"sma":70.3},{"m1":101.1,"sma":77.9},{"m1":83.5,"sma":66.4},{"m1":88.9,"sma":66.4},{"m1":121.6,"sma":70.3},{"m1":135.8,"sma":47.5},{"m1":142.8,"sma":43.3},{"m1":135.8,"sma":37},{"m1":149.6,"sma":28.3},{"m1":135.8,"sma":27.1},{"m1":135.8,"sma":27.1},{"m1":131.1,"sma":32.3},{"m1":133.4,"sma":29.9},{"m1":121.6,"sma":32.3},{"m1":146.1,"sma":20.5},{"m1":142.8,"sma":17.3},{"m1":149.6,"sma":10.6},{"m1":146.1,"sma":7.9},{"m1":135.8,"sma":20.8},{"m1":135.8,"sma":13.5},{"m1":131.1,"sma":17.3},{"m1":133,"sma":9.4},{"m1":127.8,"sma":10.6},{"m1":127.5,"sma":20.8},{"m1":120,"sma":27.1},{"m1":122.4,"sma":18.9},{"m1":119.3,"sma":17.3},{"m1":115.4,"sma":22.8},{"m1":109,"sma":32.3},{"m1":110,"sma":29.1},{"m1":109,"sma":11.1},{"m1":109,"sma":7.2},{"m1":109,"sma":7.2},{"m1":102.7,"sma":9.4},{"m1":104.3,"sma":7.2},{"m1":81.1,"sma":47.5},{"m1":88.2,"sma":46.4},{"m1":95.3,"sma":46.4},{"m1":63.5,"sma":43.3},{"m1":69,"sma":43.8},{"m1":74.5,"sma":43.8},{"m1":53.7,"sma":39.4},{"m1":67.9,"sma":39.4},{"m1":49,"sma":34.2},{"m1":81.1,"sma":35.3},{"m1":95.3,"sma":40.9},{"m1":100,"sma":39.4},{"m1":101.1,"sma":35.3},{"m1":24.1,"sma":18.6},{"m1":24.1,"sma":12.3},{"m1":54.9,"sma":31.6},{"m1":60.3,"sma":32.8},{"m1":44.9,"sma":27.9},{"m1":44.9,"sma":23.5},{"m1":40.6,"sma":23.3},{"m1":37.4,"sma":19.7},{"m1":35.9,"sma":14.2},{"m1":35,"sma":9.5},{"m1":49.2,"sma":12.6},{"m1":47.7,"sma":8.6},{"m1":64.8,"sma":34.7},{"m1":69.5,"sma":33.2},{"m1":72.6,"sma":31.6},{"m1":76.8,"sma":44},{"m1":77.2,"sma":40.4},{"m1":93.7,"sma":36.5},{"m1":98,"sma":34.1},{"m1":83,"sma":35.4},{"m1":87.3,"sma":31.8},{"m1":91.7,"sma":32.3},{"m1":93.6,"sma":33},{"m1":116.6,"sma":26.7},{"m1":112.2,"sma":25.9},{"m1":113,"sma":22.3},{"m1":119.2,"sma":18.9},{"m1":116.6,"sma":17},{"m1":112.2,"sma":17.6},{"m1":124.4,"sma":20},{"m1":124.4,"sma":10.7},{"m1":39,"sma":21},{"m1":36.5,"sma":16.5},{"m1":41.5,"sma":18},{"m1":43,"sma":13},{"m1":38,"sma":11.5},{"m1":58,"sma":36},{"m1":62,"sma":38},{"m1":72,"sma":37},{"m1":86,"sma":40},{"m1":105,"sma":30},{"m1":113,"sma":28},{"m1":106,"sma":4},{"m1":112,"sma":5},{"m1":118,"sma":8},{"m1":114,"sma":12}
],
"histC": [
{"start":-170,"end":-160,"frac":0.0027},{"start":-150,"end":-140,"frac":0.0054},{"start":-140,"end":-130,"frac":0.0018},{"start":-130,"end":-120,"frac":0.0044},{"start":-120,"end":-110,"frac":0.0072},{"start":-110,"end":-100,"frac":0.0134},{"start":-100,"end":-90,"frac":0.0188},{"start":-90,"end":-80,"frac":0.0329},{"start":-80,"end":-70,"frac":0.040},{"start":-70,"end":-60,"frac":0.0467},{"start":-60,"end":-50,"frac":0.0453},{"start":-50,"end":-40,"frac":0.055},{"start":-40,"end":-30,"frac":0.0806},{"start":-30,"end":-20,"frac":0.1035},{"start":-20,"end":-10,"frac":0.1223},{"start":-10,"end":0,"frac":0.316},{"start":0,"end":10,"frac":0.1014},{"start":10,"end":20,"frac":0.0027}
],
"histD": [
{"start":-142.5,"end":-135,"frac":0.0015},{"start":-127.5,"end":-120,"frac":0.0042},{"start":-120,"end":-112.5,"frac":0.0025},{"start":-112.5,"end":-105,"frac":0.0015},{"start":-105,"end":-97.5,"frac":0.0111},{"start":-97.5,"end":-90,"frac":0.0121},{"start":-90,"end":-82.5,"frac":0.0312},{"start":-82.5,"end":-75,"frac":0.0381},{"start":-75,"end":-67.5,"frac":0.0513},{"start":-67.5,"end":-60,"frac":0.0687},{"start":-60,"end":-52.5,"frac":0.0909},{"start":-52.5,"end":-45,"frac":0.0999},{"start":-45,"end":-37.5,"frac":0.0974},{"start":-37.5,"end":-30,"frac":0.067},{"start":-30,"end":-22.5,"frac":0.0823},{"start":-22.5,"end":-15,"frac":0.0553},{"start":-15,"end":-7.5,"frac":0.0325},{"start":-7.5,"end":0,"frac":0.19},{"start":0,"end":7.5,"frac":0.0515},{"start":7.5,"end":15,"frac":0.0006},{"start":52.5,"end":60,"frac":0.0006},{"start":90,"end":97.5,"frac":0.0006}
]
},
"columns": 2,
"spacing": {"row": 137.6, "column": 150},
"bounds": "flush",
"concat": [
{
"width": 339,
"height": 344,
"title": {"text": "A", "dx": -68, "dy": -18.3},
"layer": [
{"data": {"name": "scatterA"},
 "mark": {"type": "circle", "size": 72, "color": "#000000", "opacity": 0.3},
 "encoding": {
  "x": {"field": "m1", "type": "quantitative", "title": null, "scale": {"domain": [0, 200], "range": [2, 338], "nice": false, "zero": false},
        "axis": {"values": [0, 200], "title": null, "offset": 3.5, "tickSize": 5, "labelPadding": 8}},
  "y": {"field": "sma", "type": "quantitative", "title": null, "scale": {"domain": [0, 200], "range": [343.7, 7], "nice": false, "zero": false},
        "axis": {"values": [0, 200], "title": null, "offset": 3.5, "tickSize": 5, "labelPadding": 6}}
 }},
{"data": {"values": [{"from": 0, "to": 200}]},
 "mark": {"type": "rule", "color": "#2746a8", "strokeWidth": 2.2},
 "encoding": {"x": {"field": "from", "type": "quantitative", "title": null}, "y": {"field": "from", "type": "quantitative", "title": null}, "x2": {"field": "to"}, "y2": {"field": "to"}}},
{"data": {"values": [{"median": 103.6}]},
 "mark": {"type": "rule", "color": "#111111", "strokeWidth": 5.5},
 "encoding": {"x": {"field": "median", "type": "quantitative", "title": null}, "y": {"datum": -2}, "y2": {"datum": 7}}},
{"data": {"values": [{"median": 33.7}]},
 "mark": {"type": "rule", "color": "#3d9fdc", "strokeWidth": 5},
 "encoding": {"y": {"field": "median", "type": "quantitative", "title": null}, "x": {"datum": -2}, "x2": {"datum": 7.3}}},
{"data": {"values": [{}]},
 "mark": {"type": "text", "text": "D", "fontStyle": "italic", "fontSize": 39, "align": "left", "baseline": "alphabetic", "angle": 270, "color": "#111111"},
 "encoding": {"x": {"datum": -18.5}, "y": {"datum": 80}}},
{"data": {"values": [{}]},
 "mark": {"type": "text", "text": "SMA", "fontSize": 27, "align": "left", "baseline": "alphabetic", "angle": 270, "color": "#111111"},
 "encoding": {"x": {"datum": -16.7}, "y": {"datum": 96.6}}},
{"data": {"values": [{}]},
 "mark": {"type": "text", "text": "D", "fontStyle": "italic", "fontSize": 39, "align": "left", "baseline": "alphabetic", "color": "#111111"},
 "encoding": {"x": {"datum": 81}, "y": {"datum": -40}}},
{"data": {"values": [{}]},
 "mark": {"type": "text", "text": "M1", "fontSize": 27, "align": "left", "baseline": "alphabetic", "color": "#111111"},
 "encoding": {"x": {"datum": 96.5}, "y": {"datum": -42.4}}}
]
},
{
"width": 463.6,
"height": 347.4,
"title": {"text": "C", "dx": -88, "dy": -12.3},
"layer": [
{"data": {"name": "histC"},
 "mark": {"type": "rect", "color": "#8798cb", "stroke": "#9dabd7", "strokeWidth": 0.5},
 "encoding": {
  "x": {"field": "start", "type": "quantitative", "scale": {"domain": [-177.6, 170], "nice": false, "zero": false},
        "axis": {"values": [-170, -83, 0, 92, 170], "title": null, "labelExpr": "datum.value == -170 ? '-170' : datum.value == 0 ? '0' : datum.value == 170 ? '170' : ''",
                 "tickSize": {"condition": {"test": "abs(datum.value) == 170", "value": -12}, "value": -8},
                 "labelPadding": {"condition": {"test": "abs(datum.value) == 170", "value": 22}, "value": 18}}},
  "x2": {"field": "end"},
  "y": {"field": "frac", "type": "quantitative", "scale": {"domain": [0, 0.35], "nice": false},
        "axis": {"values": [0, 0.05, 0.1, 0.15, 0.2, 0.25, 0.3, 0.35], "title": "Fraction data points", "titleFontSize": 32, "titleAngle": 270, "titleX": -55, "titleY": 172, "titleBaseline": "alphabetic", "titleAlign": "center",
                 "labelExpr": "datum.value == 0 ? '0' : datum.value == 0.35 ? '0.35' : ''",
                 "tickSize": {"condition": {"test": "datum.value == 0 || datum.value == 0.35", "value": 11}, "value": 7}, "labelPadding": 4}},
  "y2": {"datum": 0}
 }},
{"data": {"values": [{"ref": 0}]},
 "mark": {"type": "rule", "color": "#111111", "strokeWidth": 4, "strokeDash": [9, 5]},
 "encoding": {"x": {"field": "ref", "type": "quantitative"}, "y": {"datum": 0}, "y2": {"datum": 0.35}}},
{"data": {"values": [{}]},
 "mark": {"type": "text", "text": "D", "fontStyle": "italic", "fontSize": 39, "align": "left", "baseline": "alphabetic", "color": "#111111"},
 "encoding": {"x": {"datum": -76.7}, "y": {"datum": -0.0658}}},
{"data": {"values": [{}]},
 "mark": {"type": "text", "text": "SMA", "fontSize": 27, "align": "left", "baseline": "alphabetic", "color": "#111111"},
 "encoding": {"x": {"datum": -54.9}, "y": {"datum": -0.0698}}},
{"data": {"values": [{}]},
 "mark": {"type": "text", "text": "-", "fontSize": 30, "align": "left", "baseline": "alphabetic", "color": "#111111"},
 "encoding": {"x": {"datum": 3.5}, "y": {"datum": -0.0658}}},
{"data": {"values": [{}]},
 "mark": {"type": "text", "text": "D", "fontStyle": "italic", "fontSize": 39, "align": "left", "baseline": "alphabetic", "color": "#111111"},
 "encoding": {"x": {"datum": 14.8}, "y": {"datum": -0.0658}}},
{"data": {"values": [{}]},
 "mark": {"type": "text", "text": "M1", "fontSize": 27, "align": "left", "baseline": "alphabetic", "color": "#111111"},
 "encoding": {"x": {"datum": 37.3}, "y": {"datum": -0.0698}}}
]
},
{
"width": 339,
"height": 339,
"title": {"text": "B", "dx": -67, "dy": 3.7},
"layer": [
{"data": {"name": "scatterB"},
 "mark": {"type": "circle", "size": 72, "color": "#000000", "opacity": 0.3},
 "encoding": {
  "x": {"field": "m1", "type": "quantitative", "title": null, "scale": {"domain": [0, 160], "range": [0, 339], "nice": false, "zero": false},
        "axis": {"values": [0, 160], "title": null, "offset": 3.5, "tickSize": 5, "labelPadding": 7}},
  "y": {"field": "sma", "type": "quantitative", "title": null, "scale": {"domain": [0, 160], "range": [339, 0], "nice": false, "zero": false},
        "axis": {"values": [0, 160], "title": null, "offset": 3.5, "tickSize": 5, "labelPadding": 6}}
 }},
{"data": {"values": [{"from": 0, "to": 160}]},
 "mark": {"type": "rule", "color": "#2746a8", "strokeWidth": 2.2},
 "encoding": {"x": {"field": "from", "type": "quantitative", "title": null}, "y": {"field": "from", "type": "quantitative", "title": null}, "x2": {"field": "to"}, "y2": {"field": "to"}}},
{"data": {"values": [{"median": 95.7}]},
 "mark": {"type": "rule", "color": "#111111", "strokeWidth": 5.5},
 "encoding": {"x": {"field": "median", "type": "quantitative", "title": null}, "y": {"datum": -1.9}, "y2": {"datum": 5.5}}},
{"data": {"values": [{"median": 23.1}]},
 "mark": {"type": "rule", "color": "#3d9fdc", "strokeWidth": 5},
 "encoding": {"y": {"field": "median", "type": "quantitative", "title": null}, "x": {"datum": -1.6}, "x2": {"datum": 5.8}}},
{"data": {"values": [{}]},
 "mark": {"type": "text", "text": "D", "fontStyle": "italic", "fontSize": 39, "align": "left", "baseline": "alphabetic", "angle": 270, "color": "#111111"},
 "encoding": {"x": {"datum": -13.2}, "y": {"datum": 63.6}}},
{"data": {"values": [{}]},
 "mark": {"type": "text", "text": "SMA", "fontSize": 27, "align": "left", "baseline": "alphabetic", "angle": 270, "color": "#111111"},
 "encoding": {"x": {"datum": -12.3}, "y": {"datum": 77.2}}},
{"data": {"values": [{}]},
 "mark": {"type": "text", "text": "D", "fontStyle": "italic", "fontSize": 39, "align": "left", "baseline": "alphabetic", "color": "#111111"},
 "encoding": {"x": {"datum": 65.1}, "y": {"datum": -29.4}}},
{"data": {"values": [{}]},
 "mark": {"type": "text", "text": "M1", "fontSize": 27, "align": "left", "baseline": "alphabetic", "color": "#111111"},
 "encoding": {"x": {"datum": 77.4}, "y": {"datum": -30.4}}}
]
},
{
"width": 464,
"height": 341.7,
"title": {"text": "D", "dx": -80, "dy": -10.3},
"layer": [
{"data": {"name": "histD"},
 "mark": {"type": "rect", "color": "#8798cb", "stroke": "#9dabd7", "strokeWidth": 0.5},
 "encoding": {
  "x": {"field": "start", "type": "quantitative", "scale": {"domain": [-153.7, 150], "nice": false, "zero": false},
        "axis": {"values": [-150, -100, -50, 0, 50, 100, 150], "title": null, "labelExpr": "datum.value == -150 ? '-150' : datum.value == 0 ? '0' : datum.value == 150 ? '150' : ''",
                 "tickSize": {"condition": {"test": "abs(datum.value) == 150", "value": -11}, "value": -8},
                 "labelPadding": {"condition": {"test": "abs(datum.value) == 150", "value": 17}, "value": 13}}},
  "x2": {"field": "end"},
  "y": {"field": "frac", "type": "quantitative", "scale": {"domain": [0, 0.2], "range": [341.7, 23.4], "nice": false},
        "axis": {"values": [0, 0.05, 0.1, 0.15, 0.2], "title": "Fraction data points", "titleFontSize": 32, "titleAngle": 270, "titleX": -55, "titleY": 186, "titleBaseline": "alphabetic", "titleAlign": "center",
                 "labelExpr": "datum.value == 0 ? '0' : datum.value == 0.2 ? '0.2' : ''",
                 "labelOffset": {"condition": {"test": "datum.value == 0", "value": -3}, "value": 0},
                 "tickSize": {"condition": {"test": "datum.value == 0 || datum.value == 0.2", "value": 11}, "value": 7}, "labelPadding": 4}},
  "y2": {"datum": 0}
 }},
{"data": {"values": [{"ref": 0}]},
 "mark": {"type": "rule", "color": "#111111", "strokeWidth": 4, "strokeDash": [9, 5]},
 "encoding": {"x": {"field": "ref", "type": "quantitative"}, "y": {"datum": 0}, "y2": {"datum": 0.1937}}},
{"data": {"values": [{}]},
 "mark": {"type": "text", "text": "D", "fontStyle": "italic", "fontSize": 39, "align": "left", "baseline": "alphabetic", "color": "#111111"},
 "encoding": {"x": {"datum": -65.4}, "y": {"datum": -0.0371}}},
{"data": {"values": [{}]},
 "mark": {"type": "text", "text": "SMA", "fontSize": 27, "align": "left", "baseline": "alphabetic", "color": "#111111"},
 "encoding": {"x": {"datum": -46.4}, "y": {"datum": -0.0384}}},
{"data": {"values": [{}]},
 "mark": {"type": "text", "text": "-", "fontSize": 30, "align": "left", "baseline": "alphabetic", "color": "#111111"},
 "encoding": {"x": {"datum": 4.7}, "y": {"datum": -0.0371}}},
{"data": {"values": [{}]},
 "mark": {"type": "text", "text": "D", "fontStyle": "italic", "fontSize": 39, "align": "left", "baseline": "alphabetic", "color": "#111111"},
 "encoding": {"x": {"datum": 14.5}, "y": {"datum": -0.0371}}},
{"data": {"values": [{}]},
 "mark": {"type": "text", "text": "M1", "fontSize": 27, "align": "left", "baseline": "alphabetic", "color": "#111111"},
 "encoding": {"x": {"datum": 34.1}, "y": {"datum": -0.0384}}}
]
}
]
}
